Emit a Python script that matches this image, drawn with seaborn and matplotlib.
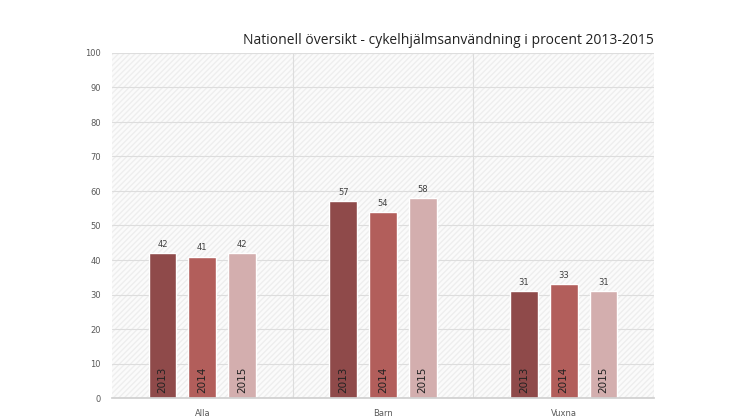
import matplotlib as mpl

mpl.use("Agg")

import matplotlib.pyplot as plt
import numpy as np
import pandas as pd
import seaborn as sns

categories = ["Alla", "Barn", "Vuxna"]
years = ["2013", "2014", "2015"]
values_2013 = [42, 57, 31]
values_2014 = [41, 54, 33]
values_2015 = [42, 58, 31]
colors = ["#9b3f3e", "#c0504d", "#d9a8a8"]

df = pd.DataFrame({
    "cat": categories * 3,
    "year": [y for y in years for _ in categories],
    "value": values_2013 + values_2014 + values_2015,
})

sns.set_theme(style="white")
fig = plt.figure(figsize=(7.46, 4.19), dpi=100)
ax = fig.add_axes([112 / 746, 21 / 419, 542 / 746, 345 / 419])
ax.set_facecolor("#fbfbfb")
ax.add_patch(plt.Rectangle((0, 0), 1, 1, transform=ax.transAxes, fill=False,
                           hatch="//////", edgecolor="#eeeeee", lw=0, zorder=0))

sns.barplot(data=df, x="cat", y="value", hue="year", palette=colors,
            width=0.66, gap=0.3, ax=ax, legend=False, zorder=2)

for cont, yr in zip(ax.containers, years):
    ax.bar_label(cont, padding=3, fontsize=6, color="#404040")
    for bar in cont:
        ax.text(bar.get_x() + bar.get_width() / 2, 1.5, yr, rotation=90,
                ha="center", va="bottom", fontsize=7.5, color="#222222", zorder=3)

ax.set_ylim(0, 100)
ax.set_xlim(-0.5, 2.5)
ax.set_yticks(np.arange(0, 101, 10))
ax.yaxis.grid(True, color="#dddddd", lw=0.8, zorder=1)
for xv in [0.5, 1.5, 2.5]:
    ax.axvline(xv, color="#dddddd", lw=0.8, zorder=1)
ax.set_axisbelow(True)
for s in ["top", "right", "left"]:
    ax.spines[s].set_visible(False)
ax.spines["bottom"].set_color("#d0d0d0")
ax.tick_params(axis="both", length=0, labelsize=6, labelcolor="#595959", pad=8)
ax.set_xlabel("")
ax.set_ylabel("")
fig.text(0.876, 0.895, "Nationell översikt - cykelhjälmsanvändning i procent 2013-2015",
         ha="right", fontsize=10, color="#222222", family="Open Sans")
fig.savefig("out.png", dpi=100)
